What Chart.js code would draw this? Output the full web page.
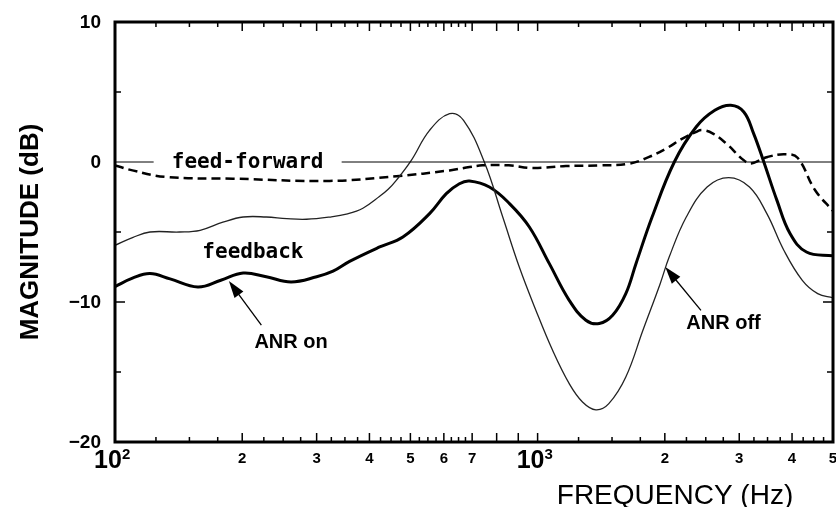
<!DOCTYPE html>
<html>
<head>
<meta charset="utf-8">
<script src="https://cdn.jsdelivr.net/npm/chart.js@4.4.1/dist/chart.umd.min.js"></script>
<style>
  html, body { margin: 0; padding: 0; background: #fff; }
  canvas { display: block; }
</style>
</head>
<body>
<canvas id="mag-chart" width="836" height="507"></canvas>
<script>
// ANR on (thick)
var onFreq = [100, 110, 121, 135, 157, 178, 201, 228, 261, 300, 328, 359, 423, 480, 555, 608, 653, 690, 769, 858, 956,
              1066, 1188, 1301, 1399, 1505, 1617, 1709, 1866, 2106, 2372, 2626, 2866, 3076, 3245, 3430, 3684, 3956, 4327, 5000];
var onDb   = [-8.9, -8.3, -7.97, -8.35, -8.93, -8.45, -7.93, -8.2, -8.57, -8.2, -7.8, -7.1, -6.07, -5.36, -3.69, -2.26, -1.55, -1.36, -1.79, -2.97, -4.64,
              -7.26, -9.88, -11.3, -11.54, -10.95, -9.4, -7.26, -3.93, 0, 2.5, 3.69, 4.05, 3.57, 2.03, 0, -2.74, -5.11, -6.43, -6.7];
// ANR off (thin)
var offFreq = [100, 110, 121, 142, 159, 180, 201, 228, 255, 284, 322, 355, 386, 423, 443, 463, 502, 555, 619, 668, 748, 827, 905, 991,
               1085, 1188, 1277, 1374, 1474, 1617, 1775, 1950, 2048, 2248, 2518, 2832, 3172, 3487, 3825, 4230, 4600, 5000];
var offDb   = [-5.95, -5.4, -5.0, -5.0, -4.88, -4.3, -3.93, -3.93, -4.05, -4.09, -3.93, -3.7, -3.3, -2.45, -1.95, -1.31, 0.1, 2.26, 3.45, 2.98, 0, -3.93, -7.5, -10.6,
               -13.45, -15.83, -17.14, -17.7, -17.26, -15.36, -12.02, -8.69, -6.79, -3.93, -1.79, -1.12, -1.79, -3.69, -6.3, -8.45, -9.4, -9.7];
// feed-forward (dashed)
var ffFreq = [100, 110, 132, 190, 322, 463, 619, 690, 740, 855, 972, 1167, 1400, 1647, 1836, 2011, 2201, 2367, 2450, 2600, 2800,
              3076, 3200, 3500, 3850, 4122, 4532, 5000];
var ffDb   = [-0.24, -0.6, -1.07, -1.19, -1.35, -1.02, -0.6, -0.36, -0.24, -0.24, -0.43, -0.29, -0.24, -0.12, 0.36, 0.95, 1.67, 2.14, 2.28, 2.03, 1.3,
              0.12, -0.1, 0.36, 0.55, 0.3, -2.0, -3.5];
// reference line
var zeroFreq = [100, 5000];
var zeroDb = [0, 0];

var xLabelVals = [200, 300, 400, 500, 600, 700, 2000, 3000, 4000, 5000];
var xLabels    = ['2', '3', '4', '5', '6', '7', '2', '3', '4', '5'];
var xDecades   = [100, 1000];
var xDecadeExp = ['2', '3'];
var xMajor = [200, 300, 400, 500, 600, 700, 800, 900, 1000, 2000, 3000, 4000];
var yTickVals = [10, 0, -10, -20];
var yTickLabels = ['10', '0', '\u221210', '\u221220'];
var yMinor = [5, -5, -15];

function pts(fx, fy) {
    return fx.map(function(f, i) { return {x: f, y: fy[i]}; });
}

var xMinor = [];
for (var f = 125; f < 700; f += 25) xMinor.push(f);
for (var g = 1250; g < 5000; g += 250) xMinor.push(g);

var FONT = '"Liberation Sans", Arial, sans-serif';

function arrow(c, x1, y1, x2, y2) {
    // x2,y2 = tip
    var a = Math.atan2(y2 - y1, x2 - x1);
    c.beginPath();
    c.moveTo(x1, y1);
    c.lineTo(x2 - 10 * Math.cos(a), y2 - 10 * Math.sin(a));
    c.lineWidth = 1.3;
    c.stroke();
    c.beginPath();
    c.moveTo(x2, y2);
    c.lineTo(x2 - 17 * Math.cos(a) + 5.5 * Math.sin(a), y2 - 17 * Math.sin(a) - 5.5 * Math.cos(a));
    c.lineTo(x2 - 17 * Math.cos(a) - 5.5 * Math.sin(a), y2 - 17 * Math.sin(a) + 5.5 * Math.cos(a));
    c.closePath();
    c.fill();
}

var decor = {
    id: 'decor',
    afterDatasetsDraw: function(chart) {
        var c = chart.ctx, a = chart.chartArea;
        var sx = chart.scales.x, sy = chart.scales.y;
        c.save();
        c.fillStyle = '#000';
        c.strokeStyle = '#000';

        // label on the zero line
        c.font = 'bold 21px "DejaVu Sans Mono", monospace';
        c.textAlign = 'center';
        c.textBaseline = 'middle';
        var fx = sx.getPixelForValue(206), fy = sy.getPixelForValue(0);
        c.fillStyle = '#fff';
        c.fillRect(fx - 94, fy - 9, 188, 16);
        c.fillStyle = '#000';
        c.fillText('feed-forward', fx, fy + 1);
        c.fillText('feedback', sx.getPixelForValue(212), sy.getPixelForValue(-6.5));

        // frame
        c.lineWidth = 3;
        c.strokeRect(a.left, a.top, a.right - a.left, a.bottom - a.top);

        // ticks inside
        c.lineWidth = 1.5;
        c.beginPath();
        xMinor.forEach(function(v) {
            var x = sx.getPixelForValue(v);
            c.moveTo(x, a.bottom); c.lineTo(x, a.bottom - 5);
            c.moveTo(x, a.top); c.lineTo(x, a.top + 5);
        });
        xMajor.forEach(function(v) {
            var x = sx.getPixelForValue(v);
            c.moveTo(x, a.bottom); c.lineTo(x, a.bottom - 9);
            c.moveTo(x, a.top); c.lineTo(x, a.top + 9);
        });
        yMinor.forEach(function(v) {
            var y = sy.getPixelForValue(v);
            c.moveTo(a.left, y); c.lineTo(a.left + 6, y);
            c.moveTo(a.right, y); c.lineTo(a.right - 6, y);
        });
        [-10].forEach(function(v) {
            var y = sy.getPixelForValue(v);
            c.moveTo(a.left, y); c.lineTo(a.left + 10, y);
            c.moveTo(a.right, y); c.lineTo(a.right - 10, y);
        });
        c.stroke();

        // y tick labels
        c.font = 'bold 19px ' + FONT;
        c.textAlign = 'right';
        c.textBaseline = 'middle';
        yTickVals.forEach(function(v, i) {
            c.fillText(yTickLabels[i], a.left - 14, sy.getPixelForValue(v) + 1);
        });

        // x tick labels
        c.font = 'bold 15px ' + FONT;
        c.textAlign = 'center';
        c.textBaseline = 'alphabetic';
        xLabelVals.forEach(function(v, i) {
            c.fillText(xLabels[i], sx.getPixelForValue(v), a.bottom + 21);
        });
        xDecades.forEach(function(v, i) {
            var x = sx.getPixelForValue(v);
            c.font = 'bold 25px ' + FONT;
            c.textAlign = 'center';
            c.fillText('10', x - 7, a.bottom + 26);
            c.font = 'bold 15px ' + FONT;
            c.textAlign = 'left';
            c.fillText(xDecadeExp[i], x + 7, a.bottom + 17);
        });

        // axis titles
        c.font = '28px ' + FONT;
        c.textAlign = 'center';
        c.fillText('FREQUENCY (Hz)', 675, 504);
        c.save();
        c.translate(38, 232);
        c.rotate(-Math.PI / 2);
        c.font = 'bold 26px ' + FONT;
        c.fillText('MAGNITUDE (dB)', 0, 0);
        c.restore();

        // annotations
        c.font = 'bold 20px ' + FONT;
        c.textAlign = 'center';
        c.textBaseline = 'middle';
        c.fillText('ANR on', sx.getPixelForValue(261), sy.getPixelForValue(-12.9));
        c.fillText('ANR off', sx.getPixelForValue(2754), sy.getPixelForValue(-11.5));
        arrow(c, sx.getPixelForValue(222), sy.getPixelForValue(-11.66), sx.getPixelForValue(186), sy.getPixelForValue(-8.5));
        arrow(c, sx.getPixelForValue(2435), sy.getPixelForValue(-10.6), sx.getPixelForValue(2005), sy.getPixelForValue(-7.5));

        c.restore();
    }
};

var ctx = document.getElementById('mag-chart');
var chart = new Chart(ctx, {
    type: 'line',
    data: {
        datasets: [{
            label: 'zero',
            data: pts(zeroFreq, zeroDb),
            borderColor: '#000',
            borderWidth: 1,
            pointRadius: 0
        }, {
            label: 'ANR off',
            data: pts(offFreq, offDb),
            borderColor: '#222',
            borderWidth: 1.3,
            pointRadius: 0,
            tension: 0.4
        }, {
            label: 'ANR on',
            data: pts(onFreq, onDb),
            borderColor: '#000',
            borderWidth: 3,
            pointRadius: 0,
            tension: 0.4
        }, {
            label: 'feed-forward',
            data: pts(ffFreq, ffDb),
            borderColor: '#000',
            borderWidth: 2.5,
            borderDash: [9, 5],
            pointRadius: 0,
            tension: 0.4
        }]
    },
    options: {
        responsive: false,
        animation: false,
        layout: { padding: { left: 115, top: 22, right: 3, bottom: 65 } },
        plugins: { legend: { display: false }, tooltip: { enabled: false } },
        scales: {
            x: { type: 'logarithmic', min: 100, max: 5000, display: false },
            y: { type: 'linear', min: -20, max: 10, display: false }
        }
    },
    plugins: [decor]
});
</script>
</body>
</html>
